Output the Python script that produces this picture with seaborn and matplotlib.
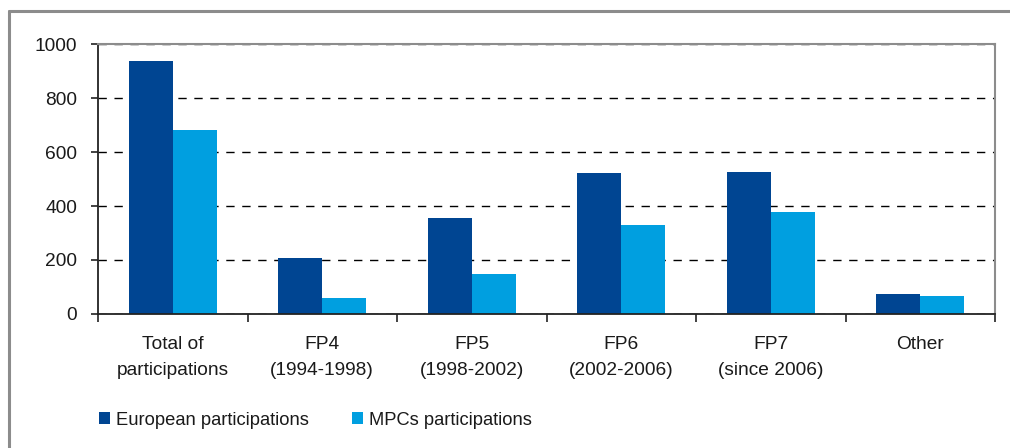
import matplotlib
matplotlib.use("Agg")
import matplotlib.pyplot as plt
from matplotlib.lines import Line2D
from matplotlib.patches import Patch
import seaborn as sns
import pandas as pd
import numpy as np

categories = ["Total of\nparticipations", "FP4\n(1994-1998)", "FP5\n(1998-2002)",
              "FP6\n(2002-2006)", "FP7\n(since 2006)", "Other"]
european = [937, 207, 356, 522, 526, 74]
mpcs = [681, 59, 148, 330, 378, 67]
series_names = ["European participations", "MPCs participations"]
colors = ["#004592", "#009FE0"]

df = pd.DataFrame({
    "category": categories * 2,
    "value": european + mpcs,
    "series": [series_names[0]] * len(categories) + [series_names[1]] * len(categories),
})

sns.set_theme(style="white")
plt.rcParams["font.family"] = ["Liberation Sans", "DejaVu Sans"]

FS = 13.8
LFS = 13.2

fig = plt.figure(figsize=(10.10, 4.48), dpi=100)
ax = fig.add_axes([98/1010, 1 - 314/448, (995 - 98)/1010, (314 - 44)/448])

sns.barplot(data=df, x="category", y="value", hue="series", palette=colors,
            width=0.59, saturation=1, ax=ax, legend=False, linewidth=0, gap=0)

ax.set_xlim(-0.5, len(categories) - 0.5)
ax.set_ylim(0, 1000)
ax.set_yticks([0, 200, 400, 600, 800, 1000])
ax.set_xlabel("")
ax.set_ylabel("")
ax.set_axisbelow(True)
ax.yaxis.grid(True, color="black", linestyle=(0, (6, 5.5)), linewidth=1.0)
ax.xaxis.grid(False)

for side in ["left", "bottom"]:
    ax.spines[side].set_color("#222222")
    ax.spines[side].set_linewidth(1.3)
for side in ["top", "right"]:
    ax.spines[side].set_color("#8c8c8c")
    ax.spines[side].set_linewidth(1.5)

ax.tick_params(axis="y", which="major", direction="out", length=5, width=1.2,
               color="#222222", pad=10, labelsize=FS, left=True)
ax.tick_params(axis="x", which="major", length=0, pad=16, labelsize=FS)
ax.set_xticks(np.arange(-0.5, len(categories)), minor=True)
ax.tick_params(axis="x", which="minor", direction="out", length=6, width=1.2,
               color="#222222", bottom=True)
for lbl in ax.get_xticklabels():
    lbl.set_linespacing(1.65)
    lbl.set_color("#1a1a1a")
for lbl in ax.get_yticklabels():
    lbl.set_color("#1a1a1a")

handles = [Patch(facecolor=c, edgecolor="none") for c in colors]
leg = fig.legend(handles, series_names, loc="center left", bbox_to_anchor=(82/1010, 1 - 420/448),
                 ncol=2, frameon=False, fontsize=LFS, handlelength=0.6, handleheight=0.6,
                 handletextpad=0.33, columnspacing=2.35)
for t in leg.get_texts():
    t.set_color("#1a1a1a")

# outer frame lines of the original chart
fig.add_artist(Line2D([9/1010, 9/1010], [0, 1 - 11/448], color="#8c8c8c", linewidth=2.2))
fig.add_artist(Line2D([9/1010, 1], [1 - 11/448, 1 - 11/448], color="#8c8c8c", linewidth=2.2))

fig.savefig("out.png", dpi=100)
